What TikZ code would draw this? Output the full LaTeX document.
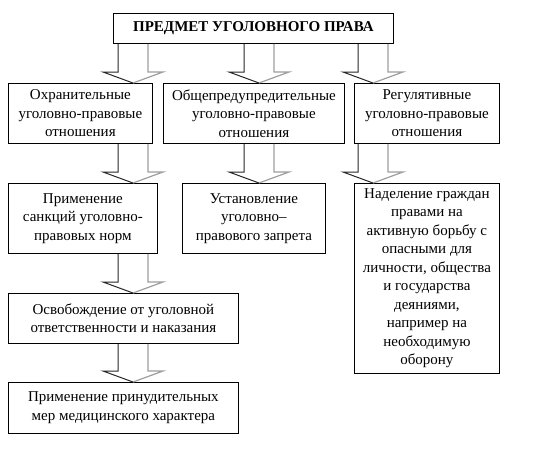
\documentclass[tikz,border=0pt]{standalone}
\usepackage{fontspec}
\setmainfont{Liberation Serif}
\usetikzlibrary{calc,shadows}
\colorlet{arrowdark}{black!85}
\colorlet{arrowlight}{black!38}
\newcommand{\blkarrow}[3]{%
  \coordinate (bs) at (#1,0 |- #2.south);
  \coordinate (bt) at (#1,0 |- #3.north);
  \draw[arrowdark, line width=1pt] ($(bs)+(-15,0)$) -- ($(bt)+(-15,-11)$) -- ($(bt)+(-30,-11)$) -- (bt);
  \draw[arrowlight, line width=1.2pt] (bt) -- ($(bt)+(30,-11)$) -- ($(bt)+(15,-11)$) -- ($(bs)+(15,0)$);
}
\begin{document}
\begin{tikzpicture}[x=1pt,y=-1pt,
  box/.style={draw, line width=0.8pt, fill=white, align=center, inner sep=0pt,
    anchor=north west, font=\rmfamily\fontsize{15}{18.5}\selectfont,
    drop shadow={shadow xshift=0.9pt, shadow yshift=-0.9pt, fill=black, opacity=1}},
]
\useasboundingbox (0,0) rectangle (545,467);
\node[box, minimum width=280pt, minimum height=30pt, font=\rmfamily\fontsize{15}{18.5}\selectfont\bfseries] (top) at (113,13) {ПРЕДМЕТ УГОЛОВНОГО ПРАВА};
\node[box, minimum width=144pt, minimum height=60pt] (a) at (8,83) {Охранительные\\уголовно-правовые\\отношения};
\node[box, minimum width=181pt, minimum height=60pt] (b) at (163,83) {Общепредупредительные\\уголовно-правовые\\отношения};
\node[box, minimum width=145pt, minimum height=60pt] (c) at (354,83) {Регулятивные\\уголовно-правовые\\отношения};
\node[box, minimum width=149pt, minimum height=70pt] (d) at (8,183) {Применение\\санкций уголовно-\\правовых норм};
\node[box, minimum width=143pt, minimum height=70pt] (e) at (182,183) {Установление\\уголовно–\\правового запрета};
\node[box, minimum width=145pt, minimum height=190pt] (f) at (354,183) {Наделение граждан\\правами на\\активную борьбу с\\опасными для\\личности, общества\\и государства\\деяниями,\\например на\\необходимую\\оборону};
\node[box, minimum width=230pt, minimum height=50pt] (g) at (8,293) {Освобождение от уголовной\\ответственности и наказания};
\node[box, minimum width=230pt, minimum height=51pt] (h) at (8,382) {Применение принудительных\\мер медицинского характера};
\blkarrow{133}{top}{a}
\blkarrow{259}{top}{b}
\blkarrow{373}{top}{c}
\blkarrow{133}{a}{d}
\blkarrow{259}{b}{e}
\blkarrow{373}{c}{f}
\blkarrow{133}{d}{g}
\blkarrow{133}{g}{h}
\end{tikzpicture}
\end{document}
